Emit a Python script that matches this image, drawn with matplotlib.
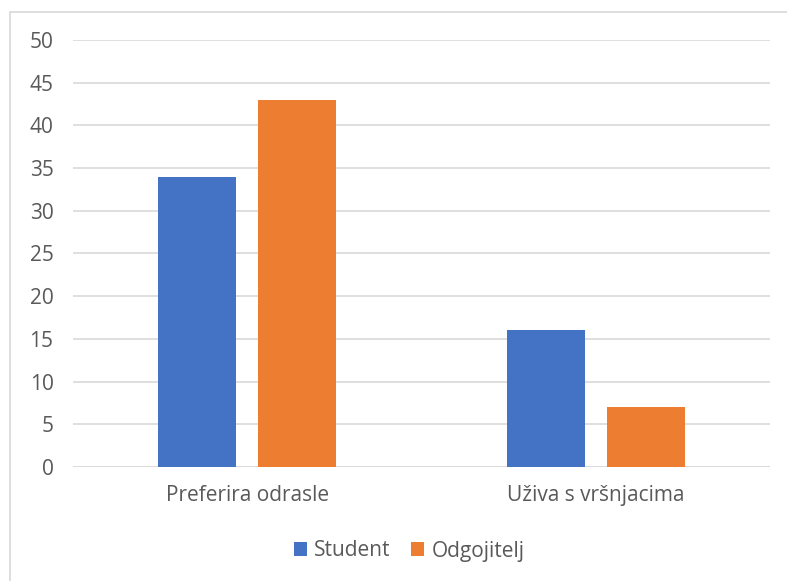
import matplotlib
matplotlib.use("Agg")
import matplotlib.pyplot as plt
from matplotlib.patches import Rectangle
import numpy as np

categories = ["Preferira odrasle", "Uživa s vršnjacima"]
series_names = ["Student", "Odgojitelj"]
student = [34, 16]
odgojitelj = [43, 7]
yticks = [0, 5, 10, 15, 20, 25, 30, 35, 40, 45, 50]

colors = ["#4472C4", "#ED7D31"]
text_color = "#595959"
grid_color = "#D9D9D9"

plt.rcParams['font.family'] = ['Open Sans', 'DejaVu Sans']

W, H = 787, 581
fig = plt.figure(figsize=(W / 100, H / 100), dpi=100)

# outer chart border (clipped at right/bottom)
fig.patches.append(Rectangle((9.5 / W, -0.1), (W + 20) / W, (H - 11.5) / H + 0.1,
                             transform=fig.transFigure, fill=False,
                             edgecolor=grid_color, linewidth=1.2))

left, right, top, bottom = 73, 770, 40, 467
ax = fig.add_axes([left / W, 1 - bottom / H, (right - left) / W, (bottom - top) / H])

x = np.arange(len(categories))
bw = 0.224
off = 0.143
ax.bar(x - off, student, width=bw, color=colors[0], label=series_names[0], zorder=3)
ax.bar(x + off, odgojitelj, width=bw, color=colors[1], label=series_names[1], zorder=3)

ax.set_xlim(-0.5, 1.5)
ax.set_ylim(0, 50)
ax.set_yticks(yticks)
ax.yaxis.grid(True, color=grid_color, linewidth=1.2, zorder=0)
ax.set_xticks(x)
ax.set_xticklabels(categories)
ax.tick_params(axis='both', length=0, labelsize=15, colors=text_color)
ax.tick_params(axis='y', pad=14)
ax.tick_params(axis='x', pad=13)
for s in ax.spines.values():
    s.set_visible(False)
ax.axhline(0, color=grid_color, linewidth=1.2, zorder=2)

leg = fig.legend(loc='center', bbox_to_anchor=(409 / W, 1 - 551 / H), ncol=2,
                 frameon=False, fontsize=15, handlelength=0.62, handleheight=0.62,
                 handletextpad=0.35, columnspacing=1.0)
for t in leg.get_texts():
    t.set_color(text_color)

fig.savefig("out.png", dpi=100)
